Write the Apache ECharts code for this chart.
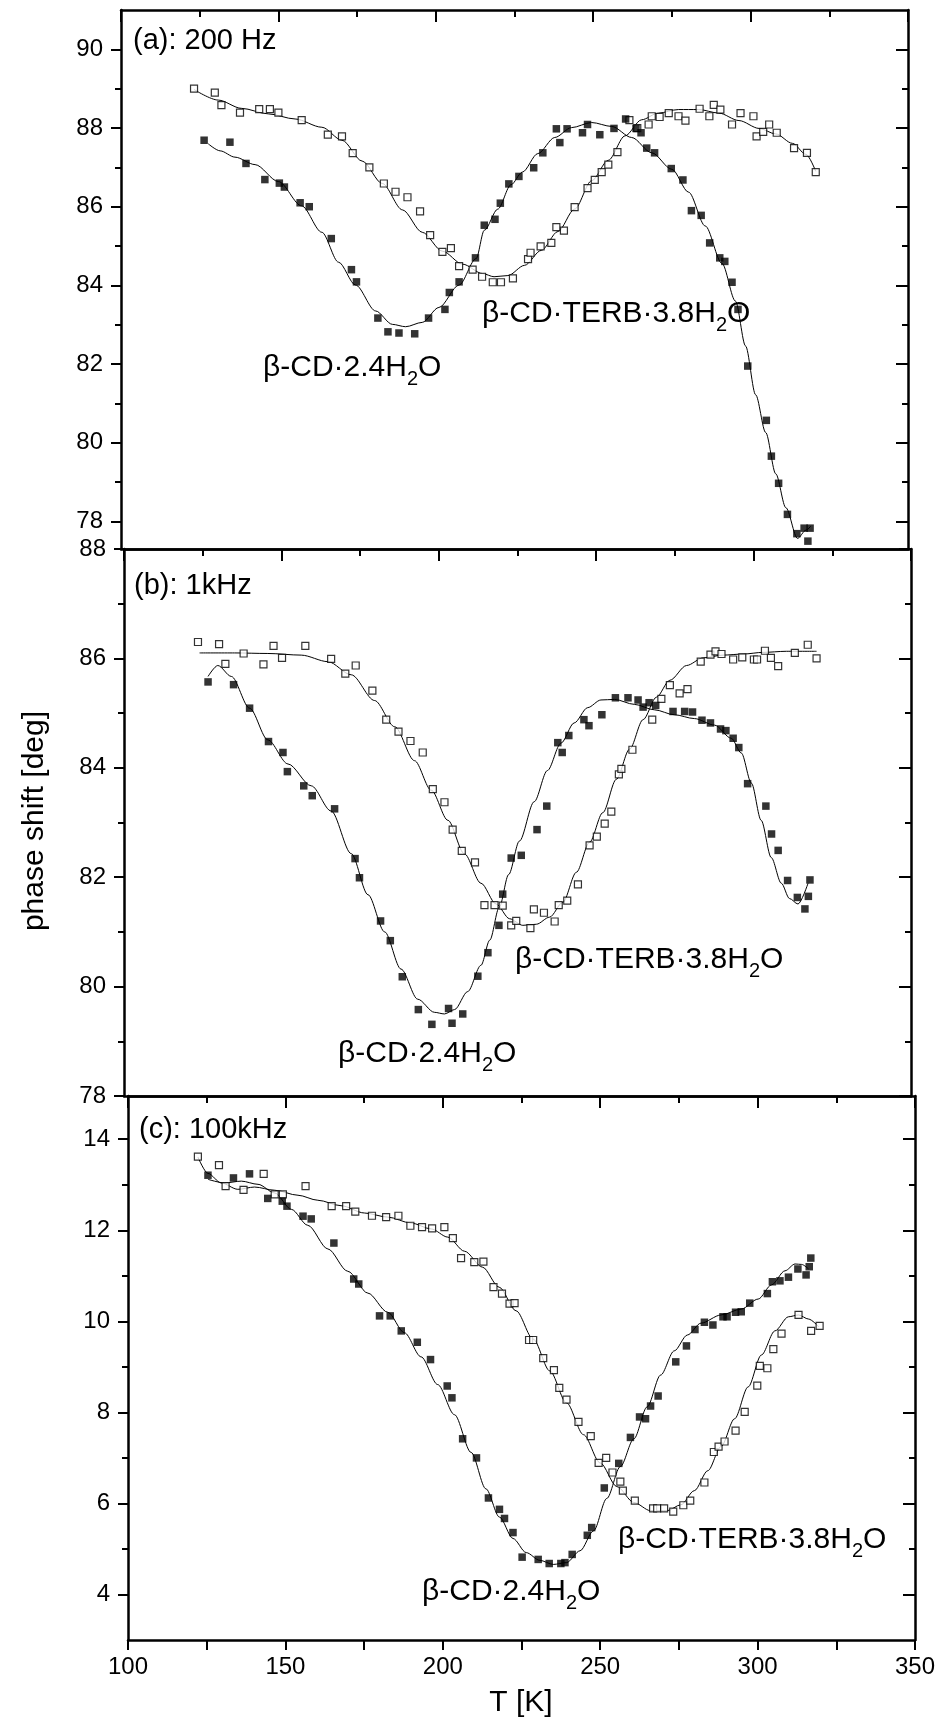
<!DOCTYPE html>
<html><head><meta charset="utf-8">
<script src="https://cdn.jsdelivr.net/npm/echarts@6/dist/echarts.min.js"></script>
<style>html,body{margin:0;padding:0;background:#fff}#c{width:952px;height:1722px}</style>
</head><body><div id="c"></div>
<script>
// ---------- data (T [K], phase shift [deg]) ----------
// panel (a) 200 Hz
const a_terb_pts = [[123.2,89.0],[129.8,88.9],[131.9,88.58],[137.8,88.39],[143.9,88.48],[147.3,88.48],[150.0,88.39],[157.4,88.2],[165.7,87.83],[170.2,87.79],[173.6,87.36],[178.9,87.0],[183.5,86.59],[187.2,86.38],[191.0,86.24],[195.0,85.88],[198.2,85.28],[202.1,84.85],[204.8,84.95],[207.4,84.49],[211.7,84.4],[214.7,84.22],[218.1,84.08],[220.7,84.08],[224.5,84.18],[229.3,84.67],[230.1,84.83],[233.3,84.99],[236.7,85.08],[238.3,85.48],[240.7,85.39],[244.1,85.99],[248.2,86.47],[250.5,86.68],[252.7,86.88],[254.8,87.07],[257.7,87.39],[261.5,88.2],[264.0,88.0],[267.6,88.09],[268.6,88.3],[271.1,88.28],[274.0,88.38],[277.1,88.3],[279.3,88.19],[283.8,88.49],[286.9,88.3],[288.3,88.59],[290.4,88.47],[294.1,88.09],[296.8,88.38],[300.9,88.3],[301.9,87.79],[304.0,87.9],[305.9,88.09],[308.3,87.88],[313.8,87.49],[317.9,87.37],[320.7,86.88]];
const a_cd_pts = [[126.4,87.69],[134.6,87.64],[139.7,87.1],[145.7,86.69],[150.3,86.6],[151.9,86.5],[156.9,86.1],[159.8,86.0],[166.8,85.19],[173.2,84.4],[174.8,84.09],[181.6,83.17],[184.8,82.82],[188.3,82.79],[193.3,82.77],[197.7,83.17],[202.9,83.39],[204.3,83.82],[207.4,84.09],[212.6,84.7],[215.4,85.53],[218.8,85.68],[220.5,86.09],[223.2,86.58],[226.4,86.77],[231.1,86.99],[234.0,87.37],[238.3,87.98],[239.4,87.63],[241.7,87.98],[246.6,87.88],[248.2,88.09],[252.1,87.83],[256.6,87.99],[260.3,88.23],[263.6,87.99],[265.2,87.88],[267.0,87.49],[269.5,87.37],[274.8,86.97],[278.5,86.68],[281.2,85.9],[284.3,85.78],[287.0,85.08],[290.2,84.7],[291.8,84.61],[294.1,84.08],[296.0,83.39],[299.1,81.95],[305.0,80.57],[306.6,79.66],[308.9,78.97],[311.7,78.18],[314.7,77.69],[317.0,77.83],[318.9,77.83],[318.2,77.5]];
const a_terb_fit = [[123.2,88.98],[130.9,88.71],[138.3,88.5],[146.8,88.36],[155.3,88.23],[163.8,88.02],[170.2,87.69],[176.6,87.16],[183,86.59],[189.4,85.92],[195.7,85.35],[202.1,84.87],[208.5,84.54],[214.9,84.3],[218.5,84.22],[222.9,84.25],[228.2,84.51],[233.5,84.89],[238.8,85.37],[244.1,85.94],[249.5,86.66],[254.8,87.18],[260.1,87.8],[265.4,88.21],[270.7,88.38],[277.1,88.47],[283.5,88.47],[289.9,88.38],[296.3,88.19],[302.7,87.99],[308,87.85],[313.3,87.61],[317.6,87.33],[320.7,86.9]];
const a_cd_fit = [[127.7,87.6],[131.5,87.42],[136.2,87.26],[142.6,87.07],[150,86.64],[157.4,86.02],[163.8,85.35],[169.1,84.59],[174.5,84.01],[180.9,83.35],[186.2,83.01],[190.4,82.95],[195.7,83.06],[201,83.44],[207.4,84.01],[212.8,84.68],[215.4,85.4],[219.7,85.94],[223.9,86.56],[227.5,86.88],[232.4,87.35],[237.8,87.76],[243.1,88.01],[249.5,88.14],[255.9,88.04],[262.2,87.76],[268.6,87.37],[275,86.95],[280.3,86.37],[285.6,85.51],[290.9,84.56],[295.2,83.6],[298.4,82.46],[301.6,81.22],[304.8,80.26],[308,79.21],[311.2,78.35],[314.9,77.57],[317.6,77.78],[319.1,77.88]];
// panel (b) 1 kHz
const b_terb_pts = [[123.5,86.3],[130.2,86.26],[132.2,85.9],[138.0,86.09],[144.3,85.89],[147.5,86.23],[150.2,86.01],[157.6,86.23],[165.8,85.99],[170.3,85.72],[173.6,85.87],[178.9,85.41],[183.3,84.88],[187.2,84.66],[191.0,84.49],[194.9,84.28],[198.1,83.61],[201.8,83.37],[204.4,82.87],[207.3,82.48],[211.5,82.27],[214.5,81.49],[217.7,81.49],[220.3,81.48],[223.0,81.12],[224.6,81.2],[229.1,81.07],[230.2,81.41],[233.4,81.35],[236.8,81.19],[238.1,81.49],[240.8,81.57],[244.2,81.87],[247.9,82.58],[250.2,82.74],[252.7,82.98],[254.8,83.2],[257.2,83.88],[258.0,83.98],[261.5,84.33],[267.8,84.88],[270.7,85.26],[273.4,85.51],[276.5,85.36],[279.0,85.44],[283.2,85.94],[286.3,86.07],[287.9,86.13],[289.8,86.08],[293.5,85.98],[296.4,86.02],[300.1,85.98],[301.1,85.98],[303.6,86.14],[305.5,86.01],[307.8,85.86],[313.1,86.1],[317.2,86.25],[320.0,86.0]];
const b_cd_pts = [[126.7,85.57],[134.8,85.52],[139.9,85.09],[145.9,84.48],[150.5,84.28],[151.9,83.93],[157.1,83.67],[159.8,83.49],[166.9,83.25],[173.4,82.34],[174.8,81.99],[181.5,81.2],[184.6,80.84],[188.4,80.18],[193.5,79.58],[197.8,79.31],[203.1,79.6],[204.2,79.33],[207.6,79.5],[212.4,80.19],[215.6,80.62],[219.1,81.12],[220.3,81.69],[223.0,82.35],[226.2,82.4],[231.2,82.87],[234.3,83.3],[237.8,84.46],[239.2,84.28],[241.3,84.59],[246.1,84.88],[247.7,84.77],[251.8,84.97],[256.1,85.28],[260.1,85.28],[263.3,85.24],[264.9,85.11],[266.8,85.19],[268.9,85.14],[274.4,85.03],[278.1,85.03],[280.6,85.02],[283.6,84.87],[286.3,84.82],[289.5,84.71],[291.2,84.68],[293.5,84.54],[295.3,84.37],[298.1,83.71],[303.9,83.3],[305.7,82.79],[307.8,82.49],[310.8,81.94],[313.9,81.63],[316.3,81.42],[317.4,81.65],[317.9,81.95]];
const b_terb_fit = [[124,86.1],[135.1,86.1],[145.7,86.09],[156.3,86.06],[164.8,85.94],[172.2,85.7],[179.6,85.23],[186,84.75],[192.3,84.13],[197.6,83.59],[202.9,83.04],[208.1,82.43],[213.4,81.89],[218.2,81.51],[222.5,81.24],[226.7,81.12],[231,81.14],[235.2,81.27],[239.4,81.54],[243.7,82.09],[247.9,82.64],[252.1,83.18],[256.4,83.79],[260.6,84.34],[264.9,84.88],[269.1,85.29],[273.4,85.6],[278.7,85.87],[284,86.01],[290.3,86.06],[296.7,86.08],[303,86.11],[310.4,86.13],[320,86.13]];
const b_cd_fit = [[126.7,85.67],[129.8,85.87],[134.1,85.67],[139.9,85.09],[145.7,84.51],[152.1,84.07],[159.5,83.67],[165.8,83.21],[172.2,82.43],[177.5,81.68],[182.8,81.0],[188,80.32],[193.3,79.77],[198.6,79.53],[201.8,79.5],[205,79.58],[209.2,79.91],[213.4,80.39],[216.2,80.85],[219.2,81.45],[222.2,82.05],[225.6,82.66],[230.3,83.38],[234.5,83.95],[238.8,84.45],[243,84.82],[247.3,85.1],[251.5,85.24],[255.8,85.25],[262.1,85.16],[268.5,85.06],[274.8,84.97],[281.2,84.9],[287.6,84.78],[292.9,84.54],[296.1,84.27],[299.3,83.72],[302.4,83.04],[305.6,82.36],[308.8,81.89],[311.4,81.61],[314.1,81.51],[317.3,81.89]];
// panel (c) 100 kHz
const c_terb_pts = [[122.2,13.62],[128.9,13.43],[131.0,12.97],[136.7,12.89],[143.1,13.24],[146.6,12.79],[149.2,12.79],[156.4,12.97],[164.7,12.53],[169.3,12.53],[172.2,12.41],[177.5,12.32],[182.0,12.29],[185.9,12.32],[189.7,12.1],[193.4,12.07],[196.6,12.04],[200.5,12.07],[203.2,11.83],[205.8,11.39],[210.0,11.3],[212.9,11.31],[216.1,10.75],[218.8,10.61],[221.2,10.39],[222.8,10.4],[227.4,9.59],[228.7,9.59],[231.9,9.19],[235.3,8.93],[237.0,8.54],[239.3,8.28],[243.1,7.79],[247.0,7.48],[249.5,6.89],[251.9,7.0],[253.9,6.68],[256.4,6.48],[257.2,6.28],[261.0,6.06],[266.8,5.89],[268.1,5.89],[270.3,5.89],[273.2,5.82],[276.4,5.96],[278.6,6.06],[283.1,6.46],[286.1,7.13],[287.6,7.25],[289.5,7.36],[293.0,7.6],[295.9,8.01],[299.9,8.59],[300.7,9.02],[303.1,8.97],[305.0,9.39],[307.6,9.73],[313.0,10.14],[317.0,9.79],[319.7,9.9]];
const c_cd_pts = [[125.4,13.21],[133.5,13.15],[138.6,13.24],[144.4,12.7],[149.0,12.64],[150.5,12.53],[155.6,12.31],[158.2,12.25],[165.4,11.72],[171.7,10.93],[173.3,10.82],[179.9,10.12],[183.3,10.12],[186.8,9.79],[191.9,9.54],[196.1,9.16],[201.4,8.58],[202.9,8.32],[206.3,7.42],[210.7,7.0],[214.5,6.12],[218.0,5.87],[219.6,5.67],[222.3,5.36],[225.2,4.82],[230.3,4.77],[233.8,4.68],[237.5,4.68],[238.8,4.7],[241.1,4.88],[245.9,5.3],[247.3,5.47],[251.3,6.34],[255.9,6.88],[259.6,7.45],[262.5,7.9],[264.4,7.86],[266.0,8.14],[268.4,8.36],[274.0,9.11],[277.4,9.46],[280.1,9.82],[283.1,9.98],[285.8,9.92],[289.0,10.1],[290.3,10.1],[293.0,10.2],[294.8,10.21],[297.5,10.4],[303.1,10.61],[304.7,10.87],[307.1,10.89],[309.8,10.97],[312.8,11.15],[315.4,11.02],[316.4,11.2],[316.9,11.39]];
const c_terb_fit = [[122.2,13.61],[125.4,13.25],[129.6,13.04],[134.9,12.9],[140.2,12.95],[146.6,12.88],[154,12.77],[160.3,12.66],[167.7,12.54],[175.1,12.38],[182.5,12.29],[189.9,12.16],[196.3,12.03],[201.6,11.85],[206.9,11.54],[212.6,11.19],[217.9,10.75],[223.3,10.23],[228.7,9.61],[234,8.91],[239.3,8.21],[244.7,7.51],[250,6.89],[255.3,6.37],[260.7,6.02],[266,5.84],[271.3,5.84],[275.6,5.97],[279.9,6.28],[284.2,6.72],[288.4,7.25],[292.7,7.86],[297,8.56],[301.2,9.26],[305.5,9.79],[309.8,10.1],[313,10.14],[316.2,10.05],[319.4,9.88]];
const c_cd_fit = [[125.4,13.12],[130.7,13.04],[136,13.08],[141.3,13.01],[146.6,12.82],[151.9,12.46],[157.1,12.11],[163.5,11.59],[169.8,11.1],[176.2,10.62],[182.5,10.2],[187.8,9.75],[193.1,9.22],[198.4,8.61],[203.7,7.95],[209,7.12],[213.7,6.32],[218,5.7],[222.3,5.23],[226.5,4.92],[230.8,4.75],[235.1,4.66],[239.3,4.7],[243.6,4.96],[247.9,5.4],[252.1,6.11],[256.4,6.81],[260.7,7.42],[264.9,8.12],[269.2,8.82],[273.5,9.35],[277.7,9.7],[282,9.96],[288.4,10.14],[294.8,10.27],[300.2,10.49],[304.4,10.8],[308.7,11.11],[311.9,11.26],[314,11.25],[316.2,11.15]];
// axes
const xTicks = [100,150,200,250,300,350];
const yRanges = [[77.3,91.0],[78,88],[3,14.95]];
const yMajor = [[78,80,82,84,86,88,90],[78,80,82,84,86,88],[4,6,8,10,12,14]];
const yMinor = [[79,81,83,85,87,89],[79,81,83,85,87],[5,7,9,11,13]];
const panelTitles = ['(a): 200 Hz','(b): 1kHz','(c): 100kHz'];
const nameCD = ['β-CD·2.4H','2','O'];
const nameTERB = ['β-CD·TERB·3.8H','2','O'];

// ---------- chart ----------
const FF = "'Liberation Sans', Arial, Helvetica, sans-serif";
const BLACK = '#000';
const TICK_FS = 24, NAME_FS = 30, TITLE_FS = 29;
const grids = [
  {left:121, right:44, top:10, height:539},
  {left:124, right:41, top:549, height:547},
  {left:128, right:37, top:1096, height:544}
];
const xAxes = [], yAxes = [], series = [];
grids.forEach((g, i) => {
  const last = i === 2;
  xAxes.push({type:'value', gridIndex:i, position:'bottom', min:xTicks[0], max:xTicks[xTicks.length-1], interval:50,
    axisLine:{show:true, onZero:false, lineStyle:{color:BLACK, width:2.5}},
    axisTick:{show:last, length:10, lineStyle:{color:BLACK, width:2}},
    minorTick:{show:last, splitNumber:2, length:10, lineStyle:{color:BLACK, width:2}},
    axisLabel:{show:last, margin:15, fontSize:TICK_FS, color:BLACK, fontFamily:FF},
    splitLine:{show:false}});
  xAxes.push({type:'value', gridIndex:i, position:'top', min:xTicks[0], max:xTicks[xTicks.length-1], interval:50,
    axisLine:{show:true, onZero:false, lineStyle:{color:BLACK, width:2.5}},
    axisTick:{show:true, inside:true, length:12, lineStyle:{color:BLACK, width:2}},
    minorTick:{show:true, splitNumber:2, length:7, lineStyle:{color:BLACK, width:2}},
    axisLabel:{show:false}, splitLine:{show:false}});
  const [mn, mx] = yRanges[i];
  const base = {type:'value', gridIndex:i, min:mn, max:mx, splitLine:{show:false},
    axisLine:{show:false, onZero:false}, axisLabel:{show:false}};
  yAxes.push(Object.assign({}, base, {position:'left',
    axisLine:{show:true, onZero:false, lineStyle:{color:BLACK, width:2.5}},
    axisTick:{show:true, length:10, customValues:yMajor[i], lineStyle:{color:BLACK, width:2}},
    axisLabel:{show:true, customValues:yMajor[i], margin:18, fontSize:TICK_FS, color:BLACK, fontFamily:FF}}));
  yAxes.push(Object.assign({}, base, {position:'left',
    axisTick:{show:true, length:6, customValues:yMinor[i], lineStyle:{color:BLACK, width:2}}}));
  yAxes.push(Object.assign({}, base, {position:'right',
    axisLine:{show:true, onZero:false, lineStyle:{color:BLACK, width:2.5}},
    axisTick:{show:true, inside:true, length:12, customValues:yMajor[i], lineStyle:{color:BLACK, width:2}}}));
  yAxes.push(Object.assign({}, base, {position:'right',
    axisTick:{show:true, inside:true, length:6, customValues:yMinor[i], lineStyle:{color:BLACK, width:2}}}));
});
const sets = [
  [a_terb_fit, a_cd_fit, a_terb_pts, a_cd_pts],
  [b_terb_fit, b_cd_fit, b_terb_pts, b_cd_pts],
  [c_terb_fit, c_cd_fit, c_terb_pts, c_cd_pts]
];
sets.forEach((s, i) => {
  const xi = 2*i, yi = 4*i;
  [s[0], s[1]].forEach(d => series.push({type:'line', xAxisIndex:xi, yAxisIndex:yi, data:d,
    smooth:0.3, smoothMonotone:'x', showSymbol:false, symbol:'none', lineStyle:{color:BLACK, width:1}, z:2, silent:true}));
  series.push({type:'scatter', xAxisIndex:xi, yAxisIndex:yi, data:s[2], symbol:'rect', symbolSize:7,
    itemStyle:{color:'#fff', borderColor:BLACK, borderWidth:1.2}, z:3, silent:true});
  series.push({type:'scatter', xAxisIndex:xi, yAxisIndex:yi, data:s[3], symbol:'rect', symbolSize:7.5,
    itemStyle:{color:BLACK}, z:4, silent:true});
});
const richName = (parts) => '{n|' + parts[0] + '}{s|' + parts[1] + '}{n|' + parts[2] + '}';
const rich = {
  n:{fontSize:NAME_FS, fontFamily:FF, fill:BLACK, lineHeight:42, verticalAlign:'middle'},
  s:{fontSize:20, fontFamily:FF, fill:BLACK, lineHeight:42, verticalAlign:'bottom'}
};
function nameText(parts, x, y){
  return {type:'text', x:x, y:y, z:10, silent:true,
    style:{text:richName(parts), rich:rich, fill:BLACK, align:'left', verticalAlign:'middle', fontSize:NAME_FS, fontFamily:FF}};
}
function plainText(t, x, y, size){
  return {type:'text', x:x, y:y, z:10, silent:true,
    style:{text:t, fontSize:size, fontFamily:FF, fill:BLACK, align:'left', verticalAlign:'middle'}};
}
const graphics = [
  plainText(panelTitles[0], 133, 41, TITLE_FS),
  plainText(panelTitles[1], 134, 586, TITLE_FS),
  plainText(panelTitles[2], 139, 1130, TITLE_FS),
  nameText(nameCD, 263, 368),
  nameText(nameTERB, 482, 314),
  nameText(nameCD, 338, 1054),
  nameText(nameTERB, 515, 960),
  nameText(nameCD, 422, 1592),
  nameText(nameTERB, 618, 1540),
  {type:'text', x:35, y:821, rotation:Math.PI/2, z:10, silent:true,
    style:{text:'phase shift [deg]', fontSize:30, fontFamily:FF, fill:BLACK, align:'center', verticalAlign:'middle'}},
  {type:'text', x:521, y:1703, z:10, silent:true,
    style:{text:'T [K]', fontSize:30, fontFamily:FF, fill:BLACK, align:'center', verticalAlign:'middle'}}
];
const chart = echarts.init(document.getElementById('c'), null, {renderer:'canvas'});
chart.setOption({
  backgroundColor:'#fff', animation:false,
  grid: grids,
  xAxis: xAxes, yAxis: yAxes, series: series,
  graphic: graphics
});
</script></body></html>
